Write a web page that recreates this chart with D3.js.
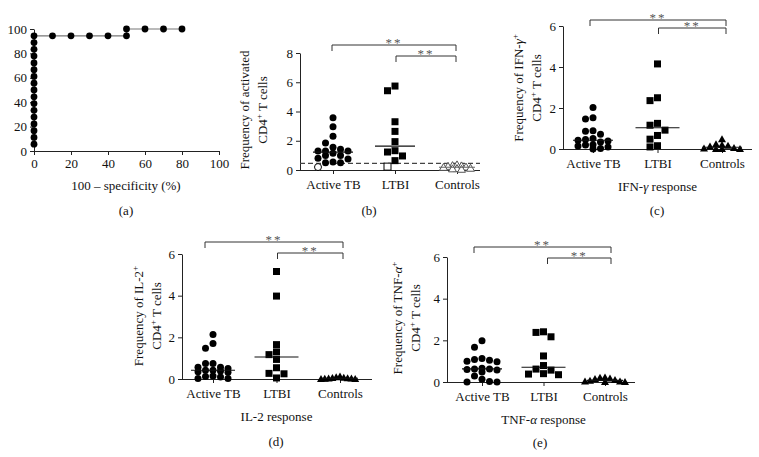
<!DOCTYPE html>
<html><head><meta charset="utf-8">
<script src="https://cdn.jsdelivr.net/npm/d3@7"></script>
<style>body{margin:0;background:#fff}svg{display:block}</style>
</head><body><svg id="c" width="759" height="457"></svg>
<script>
// ---------- DATA ----------
const groups = ["Active TB", "LTBI", "Controls"];

// (a) ROC curve
const rocFPR  = [0,0,0,0,0,0,0,0,0,0,0,0,0,0,0,0,0, 10,20,30,40,50, 50,60,70,80];
const rocSens = [5.6,11.1,16.7,22.2,27.8,33.3,38.9,44.4,50.0,55.6,61.1,66.7,72.2,77.8,83.3,88.9,94.4,
                 94.4,94.4,94.4,94.4,94.4, 100,100,100,100];
const rocTicks = [0,20,40,60,80,100];

// (b) activated CD4+ T cells
const actTB_b   = [3.58,2.95,2.3,1.85,1.55,1.42,1.3,1.3,1.3,1.15,1.0,1.0,0.8,0.75,0.55,0.5,0.5];
const actTB_bOpen = [0.2];
const ltbi_b    = [5.74,5.42,3.3,2.64,1.94,1.32,1.23,0.96,0.64];
const ltbi_bOpen = [0.23];
const ctrl_b    = [0.35,0.3,0.28,0.25,0.2,0.18,0.12,0.1,0.08,0.05];
const cutoff_b  = 0.45;
const ticks_b   = [0,2,4,6,8];

// (c) IFN-gamma
const actTB_c = [2.03,1.52,1.46,0.89,0.87,0.72,0.51,0.46,0.43,0.39,0.34,0.21,0.2,0.15,0.1,0.03,0.0];
const ltbi_c  = [4.15,2.5,2.36,1.25,1.16,0.92,0.66,0.48,0.16,0.1];
const ctrl_c  = [0.48,0.23,0.2,0.16,0.12,0.05,0.02,0.0,0.0,0.0];

// (d) IL-2
const actTB_d = [2.14,1.71,1.48,0.75,0.75,0.56,0.56,0.5,0.42,0.42,0.38,0.35,0.32,0.15,0.12,0.1,0.03,0.02];
const ltbi_d  = [5.16,3.98,1.65,1.3,1.17,0.94,0.54,0.27,0.25,0.05];
const ctrl_d  = [0.12,0.08,0.06,0.05,0.04,0.03,0.02,0.01,0.0,0.0];

// (e) TNF-alpha
const actTB_e = [1.98,1.67,1.13,1.08,1.05,1.0,0.97,0.66,0.63,0.63,0.6,0.58,0.48,0.29,0.13,0.02,0.0,0.0];
const ltbi_e  = [2.41,2.38,2.17,1.25,0.79,0.62,0.57,0.4,0.38,0.35];
const ctrl_e  = [0.22,0.2,0.17,0.15,0.1,0.06,0.03,0.02,0.0,0.0];
const ticks_cde = [0,2,4,6];

// ---------- DRAWING ----------
const FONT = "'Liberation Serif','Times New Roman',serif";
const FS = 13;
const svg = d3.select("#c").style("font-family", FONT);
const AX = "#222";

function styleAxis(g){
  g.selectAll("path.domain").attr("stroke", AX);
  g.selectAll(".tick line").attr("stroke", AX);
  g.selectAll(".tick text").attr("fill","#111").style("font-size",FS+"px").style("font-family",FONT);
}

function label(x, y, txt){
  return svg.append("text").attr("x",x).attr("y",y).attr("text-anchor","middle")
    .style("font-size",FS+"px").attr("fill","#111").text(txt);
}

// ---- (a) ROC ----
(function(){
  const x = d3.scaleLinear([0,100],[34,219]);
  const y = d3.scaleLinear([0,100],[151,29]);
  const g = svg.append("g");
  g.append("g").attr("transform","translate(0,151)")
    .call(d3.axisBottom(x).tickValues(rocTicks).tickSize(4).tickSizeOuter(0).tickPadding(4)).call(styleAxis)
    .call(a=>a.select(".domain").attr("d",`M${x(0)},0.5H${x(100)}`));
  g.append("g").attr("transform","translate(34,0)")
    .call(d3.axisLeft(y).tickValues(rocTicks).tickSize(4).tickSizeOuter(0).tickPadding(3)).call(styleAxis);
  const pts = rocFPR.map((f,i)=>[f, rocSens[i]]);
  g.append("path").datum(pts)
    .attr("d", d3.line().x(d=>x(d[0])).y(d=>y(d[1])))
    .attr("fill","none").attr("stroke","#777").attr("stroke-width",1.2);
  g.selectAll("circle").data(pts).join("circle")
    .attr("cx",d=>x(d[0])).attr("cy",d=>y(d[1])).attr("r",3.4).attr("fill","#000");
  label(126,190,"100 – specificity (%)");
  label(126,215,"(a)");
})();

// capped beeswarm layout (GraphPad-like columns)
function swarm(values, yScale, step, minD, maxM){
  const sorted = values.map((v,i)=>({v,i})).sort((a,b)=>b.v-a.v);
  const placed = [];
  const order = [0];
  for(let m=1;m<=maxM;m++){ order.push(-m, m); }
  sorted.forEach(p=>{
    const py = yScale(p.v);
    let best = null, bestD = -1;
    for(const m of order){
      const dx = m*step;
      const d = placed.length ? d3.min(placed, q=>Math.hypot(q.dx-dx, q.py-py)) : Infinity;
      if(d >= minD){ best = dx; break; }
      if(d > bestD){ bestD = d; best = dx; }
    }
    placed.push({v:p.v, dx:best, py, i:p.i});
  });
  return placed;
}

function marker(g, shape, cx, cy, filled, color){
  const s = 3.5;
  let el;
  if(shape==="circle") el = g.append("circle").attr("cx",cx).attr("cy",cy).attr("r",s);
  else if(shape==="square") el = g.append("rect").attr("x",cx-s).attr("y",cy-s).attr("width",2*s).attr("height",2*s);
  else el = g.append("path").attr("d",`M${cx},${cy-s-0.5}L${cx+s+0.5},${cy+s-0.5}L${cx-s-0.5},${cy+s-0.5}Z`);
  if(filled) el.attr("fill",color||"#000");
  else el.attr("fill","#fff").attr("stroke",color||"#000").attr("stroke-width",1);
}

function dotPanel(cfg){
  const g = svg.append("g");
  const y = d3.scaleLinear([0,cfg.yMax],[cfg.y0,cfg.yTop]);
  const x = d3.scalePoint(groups,[cfg.cats[0],cfg.cats[1]]);
  g.append("g").attr("transform",`translate(${cfg.ax},0)`)
    .call(d3.axisLeft(y).tickValues(cfg.ticks).tickFormat(d3.format("d")).tickSize(4).tickSizeOuter(0).tickPadding(3))
    .call(styleAxis);
  g.append("g").attr("transform",`translate(0,${cfg.y0})`)
    .call(d3.axisBottom(x).tickSize(4).tickSizeOuter(0).tickPadding(6)).call(styleAxis)
    .call(a=>a.select(".domain").attr("d",`M${cfg.ax},0.5H${cfg.xEnd}`));
  if(cfg.cutoff!=null){
    g.append("line").attr("x1",cfg.ax).attr("x2",cfg.xEnd).attr("y1",y(cfg.cutoff)).attr("y2",y(cfg.cutoff))
      .attr("stroke","#444").attr("stroke-width",1.2).attr("stroke-dasharray","5,3");
  }
  cfg.series.forEach(s=>{
    const all = s.values.concat(s.open||[]);
    const lay = swarm(all, y, s.step||7.5, s.minD||6.8, s.maxM||2);
    const cx = x(s.group);
    const med = d3.median(all);
    lay.forEach(p=>{
      const isOpen = p.i >= s.values.length || s.allOpen;
      marker(g, s.shape, cx+p.dx, p.py, !isOpen, s.color);
    });
    g.append("line").attr("x1",cx-s.mw).attr("x2",cx+s.mw).attr("y1",y(med)).attr("y2",y(med))
      .attr("stroke",s.medColor||"#111").attr("stroke-width",1.1);
  });
  cfg.brackets.forEach(b=>{
    const x1 = x(b.from)+b.o1, x2 = x(b.to)+b.o2;
    g.append("path").attr("d",`M${x1},${b.y+6}V${b.y}H${x2}V${b.y+6}`)
      .attr("fill","none").attr("stroke","#333").attr("stroke-width",1);
    g.append("text").attr("x",(x1+x2)/2).attr("y",b.y+2).attr("text-anchor","middle")
      .style("font-size","13px").attr("fill","#555").style("letter-spacing","2px").text("**");
  });
  const t = g.append("g").attr("transform",`translate(${cfg.tx},${cfg.ty}) rotate(-90)`);
  const l1 = t.append("text").attr("text-anchor","middle").attr("y",0).style("font-size",FS+"px").attr("fill","#111");
  cfg.title1(l1);
  const l2 = t.append("text").attr("text-anchor","middle").attr("y",18).style("font-size",FS+"px").attr("fill","#111");
  l2.append("tspan").text("CD4");
  l2.append("tspan").attr("baseline-shift","super").style("font-size","9px").text("+");
  l2.append("tspan").text(" T cells");
  if(cfg.xtitle) cfg.xtitle(g.append("text").attr("x",x("LTBI")).attr("y",cfg.y0+42).attr("text-anchor","middle").style("font-size",FS+"px").attr("fill","#111"));
  g.append("text").attr("x",cfg.panelX).attr("y",cfg.panelY).attr("text-anchor","middle").style("font-size",FS+"px").attr("fill","#111").text(cfg.panel);
}

// (b)
dotPanel({
  ax:300, xEnd:480, y0:170, yTop:53, yMax:8, ticks:ticks_b, cats:[333,457],
  cutoff: cutoff_b,
  series:[
    {group:"Active TB", values:actTB_b, open:actTB_bOpen, shape:"circle", mw:20},
    {group:"LTBI", values:ltbi_b, open:ltbi_bOpen, shape:"square", mw:20},
    {group:"Controls", values:ctrl_b, shape:"tri", allOpen:true, color:"#555", step:4.5, minD:4.5, maxM:3, mw:18, medColor:"#666"}
  ],
  brackets:[{from:"Active TB",to:"Controls",y:45,o1:-1,o2:-1},{from:"LTBI",to:"Controls",y:56,o1:1,o2:-1}],
  tx:249, ty:110, title1:el=>el.text("Frequency of activated"),
  panel:"(b)", panelX:369, panelY:215
});

// (c)
dotPanel({
  ax:563, xEnd:752, y0:149, yTop:26, yMax:6, ticks:ticks_cde, cats:[593,722],
  series:[
    {group:"Active TB", values:actTB_c, shape:"circle", mw:20},
    {group:"LTBI", values:ltbi_c, shape:"square", mw:22},
    {group:"Controls", values:ctrl_c, shape:"tri", step:6, minD:5.5, maxM:3, mw:20}
  ],
  brackets:[{from:"Active TB",to:"Controls",y:20,o1:-3,o2:4},{from:"LTBI",to:"Controls",y:28,o1:1,o2:4}],
  tx:523, ty:88, title1:el=>{el.append("tspan").text("Frequency of IFN-");el.append("tspan").style("font-style","italic").text("γ");el.append("tspan").attr("baseline-shift","super").style("font-size","9px").text("+");},
  xtitle:el=>{el.append("tspan").text("IFN-");el.append("tspan").style("font-style","italic").text("γ");el.append("tspan").text(" response");},
  panel:"(c)", panelX:657, panelY:215
});

// (d)
dotPanel({
  ax:182, xEnd:372, y0:379, yTop:254, yMax:6, ticks:ticks_cde, cats:[213,340],
  series:[
    {group:"Active TB", values:actTB_d, shape:"circle", mw:22},
    {group:"LTBI", values:ltbi_d, shape:"square", mw:22},
    {group:"Controls", values:ctrl_d, shape:"tri", step:3.8, minD:3.8, maxM:5, mw:18}
  ],
  brackets:[{from:"Active TB",to:"Controls",y:242,o1:-8,o2:3},{from:"LTBI",to:"Controls",y:253,o1:1,o2:3}],
  tx:143, ty:316, title1:el=>el.text("Frequency of IL-2").append("tspan").attr("baseline-shift","super").style("font-size","9px").text("+"),
  xtitle:el=>el.text("IL-2 response"),
  panel:"(d)", panelX:276, panelY:446
});

// (e)
dotPanel({
  ax:447, xEnd:635, y0:382, yTop:257, yMax:6, ticks:ticks_cde, cats:[482,605],
  series:[
    {group:"Active TB", values:actTB_e, shape:"circle", mw:20},
    {group:"LTBI", values:ltbi_e, shape:"square", mw:22},
    {group:"Controls", values:ctrl_e, shape:"tri", step:5, minD:4.5, maxM:4, mw:18}
  ],
  brackets:[{from:"Active TB",to:"Controls",y:247,o1:-8,o2:6},{from:"LTBI",to:"Controls",y:258,o1:4,o2:6}],
  tx:402, ty:318, title1:el=>{el.append("tspan").text("Frequency of TNF-");el.append("tspan").style("font-style","italic").text("α");el.append("tspan").attr("baseline-shift","super").style("font-size","9px").text("+");},
  xtitle:el=>{el.append("tspan").text("TNF-");el.append("tspan").style("font-style","italic").text("α");el.append("tspan").text(" response");},
  panel:"(e)", panelX:540, panelY:447
});
</script></body></html>
